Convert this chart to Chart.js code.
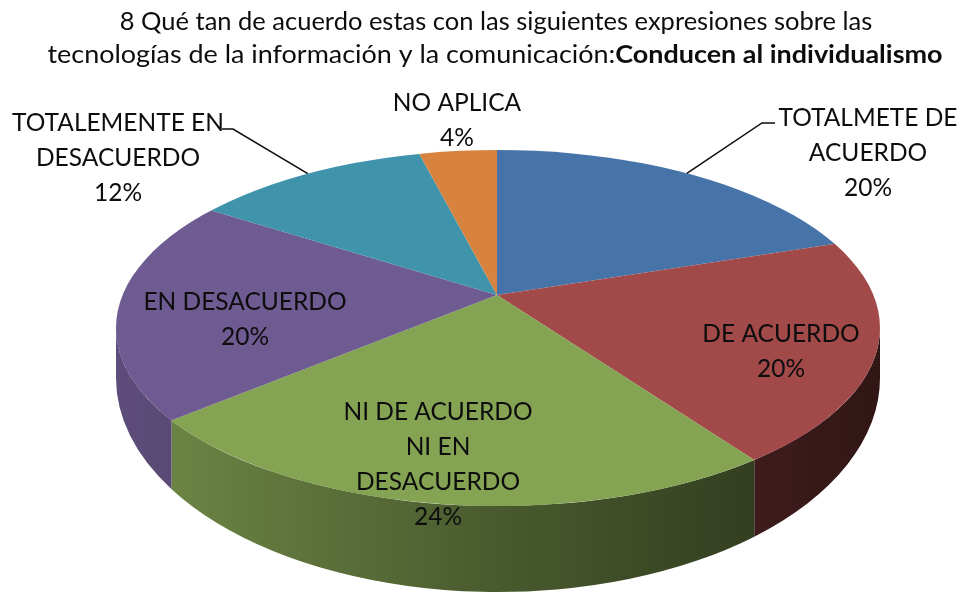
<!DOCTYPE html>
<html>
<head>
<meta charset="utf-8">
<script src="https://cdn.jsdelivr.net/npm/chart.js@4"></script>
<style>
  html, body { margin: 0; padding: 0; background: #fff; }
  canvas { display: block; }
</style>
</head>
<body>
<canvas id="pieChart" width="963" height="595"></canvas>
<script>
// datos
const categories = ["TOTALMETE DE ACUERDO", "DE ACUERDO", "NI DE ACUERDO NI EN DESACUERDO",
  "EN DESACUERDO", "TOTALEMENTE EN DESACUERDO", "NO APLICA"];
const percentages = [20, 20, 24, 20, 12, 4];
const labelLines = [["TOTALMETE DE", "ACUERDO"], ["DE ACUERDO"], ["NI DE ACUERDO", "NI EN", "DESACUERDO"],
  ["EN DESACUERDO"], ["TOTALEMENTE EN", "DESACUERDO"], ["NO APLICA"]];
const titleLine1 = "8 Qué tan de acuerdo estas con las siguientes expresiones sobre las";
const titleLine2 = "tecnologías de la información y la comunicación:";
const titleBold = "Conducen al individualismo";

// estilos y disposición
const colors = ["#4774a8", "#a2494a", "#85a453", "#6e5b91", "#3f94ac", "#d7833f"];
const FONT = "Lato, 'Open Sans', sans-serif";
const TITLE_SIZE = 25.5, LABEL_SIZE = 24.5, LINE_H = 35, TITLE2_W = 895;
// cara superior (elipse), vértice desplazado hacia atrás y cara inferior (perspectiva)
const PIE = { cx: 498, cy: 328, rx: 382, ry: 178, vx: 497, vy: 295, drop: 50, ry2: 214 };
const labelPos = [[868, 118], [781, 334], [438, 412], [245, 302], [118, 123], [457, 103]];
const leaders = { 0: [[762, 123], [775, 123]], 4: [[233, 129], [222, 129]] };

function shade(hex, f) {
  const n = parseInt(hex.slice(1), 16);
  const r = Math.round(((n >> 16) & 255) * f), g = Math.round(((n >> 8) & 255) * f), b = Math.round((n & 255) * f);
  return "rgb(" + r + "," + g + "," + b + ")";
}

// ángulo sobre la elipse donde corta el radio que sale del vértice
function edgeAngle(theta) {
  const { cx, cy, rx, ry, vx, vy } = PIE;
  const u0 = (vx - cx) / rx, v0 = (vy - cy) / ry;
  const dx = Math.cos(theta), dy = Math.sin(theta);
  const b = u0 * dx + v0 * dy;
  const t = -b + Math.sqrt(b * b - (u0 * u0 + v0 * v0 - 1));
  let phi = Math.atan2(v0 + t * dy, u0 + t * dx);
  while (phi < theta - Math.PI) phi += 2 * Math.PI;
  while (phi > theta + Math.PI) phi -= 2 * Math.PI;
  return phi;
}

// pastel inclinado en 3D a partir de los arcos de Chart.js
const tilt = {
  id: "tilt",
  beforeDatasetsDraw(chart) {
    const ctx = chart.ctx;
    const meta = chart.getDatasetMeta(0);
    const a0 = meta.data[0];
    const { cx, cy, rx, ry, vx, vy, drop, ry2 } = PIE;
    // lados
    meta.data.forEach((arc, i) => {
      const s = Math.max(edgeAngle(arc.startAngle), 0), e = Math.min(edgeAngle(arc.endAngle), Math.PI);
      if (e <= s) return;
      const grad = ctx.createLinearGradient(cx - rx, 0, cx + rx, 0);
      grad.addColorStop(0, shade(colors[i], 0.85));
      grad.addColorStop(0.5, shade(colors[i], 0.55));
      grad.addColorStop(1, shade(colors[i], 0.3));
      ctx.beginPath();
      ctx.ellipse(cx, cy, rx, ry, 0, s, e);
      ctx.lineTo(cx + rx * Math.cos(e), cy + drop + ry2 * Math.sin(e));
      ctx.ellipse(cx, cy + drop, rx, ry2, 0, e, s, true);
      ctx.closePath();
      ctx.fillStyle = grad;
      ctx.fill();
    });
    // cara superior: pastel ampliado con centro en el vértice, recortado a la elipse
    ctx.save();
    ctx.beginPath();
    ctx.ellipse(cx, cy, rx, ry, 0, 0, 2 * Math.PI);
    ctx.clip();
    ctx.translate(vx, vy);
    ctx.scale(1.5 * rx / a0.outerRadius, 1.5 * ry / a0.outerRadius);
    ctx.translate(-a0.x, -a0.y);
  },
  afterDatasetsDraw(chart) {
    chart.ctx.restore();
  },
  afterDraw(chart) {
    const ctx = chart.ctx;
    const meta = chart.getDatasetMeta(0);
    const { cx, cy, rx, ry } = PIE;
    ctx.save();
    ctx.fillStyle = "#0d0d0d";
    ctx.textBaseline = "middle";
    ctx.textAlign = "center";
    // título
    ctx.font = TITLE_SIZE + "px " + FONT;
    ctx.fillText(titleLine1, 496, 22);
    const w1 = ctx.measureText(titleLine2).width;
    ctx.font = "bold " + TITLE_SIZE + "px " + FONT;
    const w2 = ctx.measureText(titleBold).width;
    const k = TITLE2_W / (w1 + w2);
    ctx.save();
    ctx.translate(495 - TITLE2_W / 2, 55);
    ctx.scale(k, 1);
    ctx.textAlign = "left";
    ctx.font = TITLE_SIZE + "px " + FONT;
    ctx.fillText(titleLine2, 0, 0);
    ctx.font = "bold " + TITLE_SIZE + "px " + FONT;
    ctx.fillText(titleBold, w1, 0);
    ctx.restore();
    // etiquetas
    ctx.textAlign = "center";
    ctx.font = LABEL_SIZE + "px " + FONT;
    const total = percentages.reduce((a, b) => a + b, 0);
    labelLines.forEach((lines, i) => {
      const txt = lines.concat([Math.round(percentages[i] / total * 100) + "%"]);
      const [lx, ly] = labelPos[i];
      txt.forEach((t, j) => ctx.fillText(t, lx, ly + j * LINE_H));
    });
    // líneas guía desde el punto medio del borde de cada porción
    ctx.strokeStyle = "#0d0d0d";
    ctx.lineWidth = 1.5;
    Object.keys(leaders).forEach(i => {
      const arc = meta.data[i];
      const a = edgeAngle((arc.startAngle + arc.endAngle) / 2);
      ctx.beginPath();
      ctx.moveTo(cx + rx * Math.cos(a), cy + ry * Math.sin(a));
      leaders[i].forEach(p => ctx.lineTo(p[0], p[1]));
      ctx.stroke();
    });
    ctx.restore();
  }
};

new Chart(document.getElementById("pieChart").getContext("2d"), {
  type: "pie",
  data: {
    labels: categories,
    datasets: [{
      data: percentages,
      backgroundColor: colors,
      borderWidth: 0,
      clip: false
    }]
  },
  options: {
    responsive: false,
    devicePixelRatio: 1,
    animation: false,
    events: [],
    plugins: { legend: { display: false }, tooltip: { enabled: false }, title: { display: false } }
  },
  plugins: [tilt]
});
</script>
</body>
</html>
